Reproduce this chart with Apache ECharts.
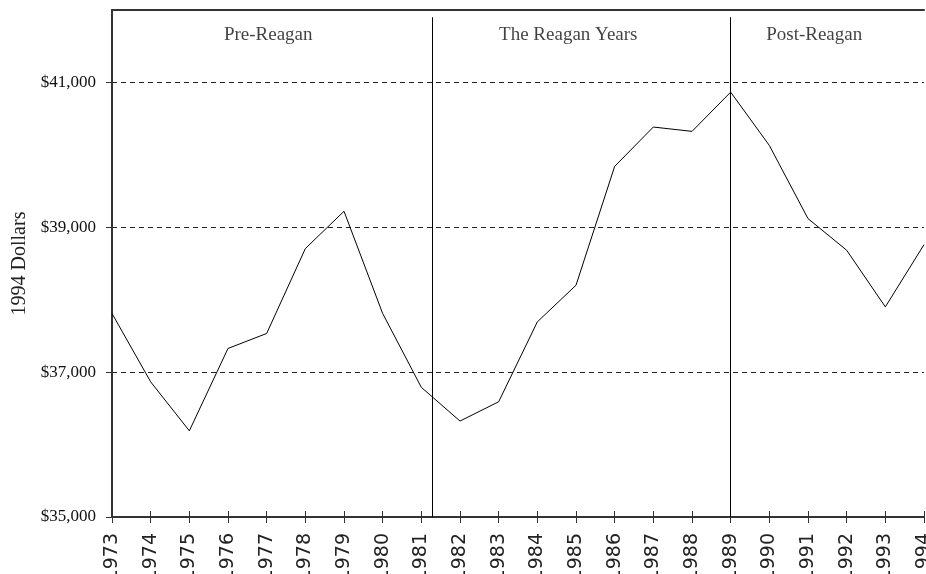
<!DOCTYPE html>
<html>
<head>
<meta charset="utf-8">
<script src="https://cdn.jsdelivr.net/npm/echarts@6/dist/echarts.min.js"></script>
<style>
html,body{margin:0;padding:0;background:#fff;}
#chart{width:926px;height:574px;}
</style>
</head>
<body>
<div id="chart"></div>
<script>
// ---- data ----
const years = [1973,1974,1975,1976,1977,1978,1979,1980,1981,1982,1983,1984,1985,1986,1987,1988,1989,1990,1991,1992,1993,1994];
const income = [37810,36866,36190,37327,37534,38706,39221,37810,36790,36325,36591,37694,38200,39841,40384,40324,40866,40130,39120,38683,37901,38760];
const yTickValues = [35000,37000,39000,41000];
const eraBoundaries = [1981.28, 1989];
const eraNames = ['Pre-Reagan','The Reagan Years','Post-Reagan'];
const eraLabelYears = [1977.04, 1984.8, 1991.16];

// ---- layout / styles ----
const eraLineTop = 41900;
const eraLabelValue = 41660;

const chart = echarts.init(document.getElementById('chart'), null, {renderer:'canvas'});

const lineData = years.map((y,i)=>[y, income[i]]);
const labelData = eraNames.map((n,i)=>({name:n, value:[eraLabelYears[i], eraLabelValue]}));
const markLines = eraBoundaries.map(x=>[{coord:[x,35000]},{coord:[x,eraLineTop]}]);

const fmtDollar = v => '$' + v.toLocaleString('en-US');

chart.setOption({
  animation:false,
  backgroundColor:'#fff',
  grid:{left:112, right:2, top:10, bottom:57, containLabel:false, outerBoundsMode:'none'},
  xAxis:[
    {
      type:'value', min:1973, max:1994, interval:1, position:'bottom',
      axisLine:{show:true, onZero:false, lineStyle:{color:'#333', width:2}},
      axisTick:{show:true, inside:false, length:6, lineStyle:{color:'#333', width:1}},
      axisLabel:{show:true, rotate:90, margin:16, fontFamily:'DejaVu Sans', fontSize:19, color:'#222',
        hideOverlap:false, formatter:v=>String(Math.round(v))},
      splitLine:{show:false}
    },
    {
      type:'value', min:1973, max:1994, interval:1, position:'bottom',
      axisLine:{show:false},
      axisTick:{show:true, inside:true, length:6, lineStyle:{color:'#333', width:1}},
      axisLabel:{show:false},
      splitLine:{show:false}
    },
    {
      type:'value', min:1973, max:1994, interval:1, position:'top',
      axisLine:{show:true, onZero:false, lineStyle:{color:'#333', width:2}},
      axisTick:{show:false},
      axisLabel:{show:false},
      splitLine:{show:false}
    }
  ],
  yAxis:{
    type:'value', min:35000, max:42000, interval:2000,
    name:'1994 Dollars', nameLocation:'middle', nameRotate:90, nameGap:80,
    nameTextStyle:{fontFamily:'Liberation Serif', fontSize:20, color:'#222'},
    axisLine:{show:true, onZero:false, lineStyle:{color:'#333', width:2}},
    axisTick:{show:true, length:6, customValues:yTickValues, lineStyle:{color:'#333', width:1}},
    axisLabel:{show:true, margin:16, customValues:yTickValues, fontFamily:'Liberation Serif', fontSize:17, color:'#111',
      formatter:fmtDollar},
    splitLine:{show:true, lineStyle:{color:'#222', width:1, type:[5,4]}}
  },
  series:[
    {
      type:'line', xAxisIndex:0, data:lineData, symbol:'none', smooth:false,
      lineStyle:{color:'#000', width:1},
      markLine:{silent:true, symbol:'none', label:{show:false},
        lineStyle:{color:'#000', width:1, type:'solid'}, data:markLines},
      z:3
    },
    {
      type:'scatter', xAxisIndex:0, data:labelData, symbolSize:0, silent:true,
      label:{show:true, position:'inside', formatter:p=>p.name, fontFamily:'Liberation Serif', fontSize:19, color:'#111'}
    }
  ]
});
</script>
</body>
</html>
